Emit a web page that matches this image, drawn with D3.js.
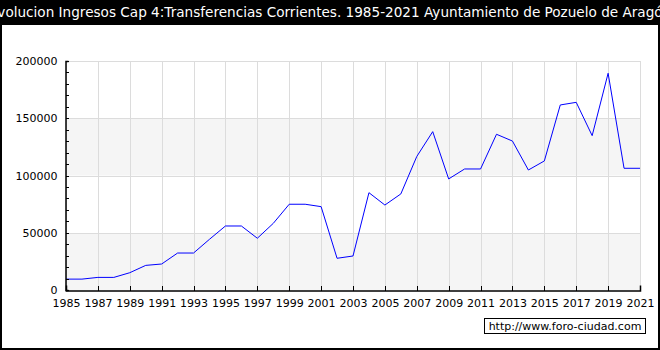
<!DOCTYPE html>
<html>
<head>
<meta charset="utf-8">
<script src="https://cdn.jsdelivr.net/npm/d3@7"></script>
<style>
  body { margin: 0; background: #fff; }
  svg { display: block; font-family: "DejaVu Sans", sans-serif; }
</style>
</head>
<body>
<div id="chart"></div>
<script>
// data
var years = d3.range(1985, 2022);
var ingresos = [9500, 9500, 11000, 11000, 15100, 21500, 22700, 32300, 32300, 44300,
                55900, 55900, 45200, 58200, 74900, 74900, 72800, 27700, 29700, 85000,
                74200, 83900, 116600, 138300, 97000, 105700, 105700, 136000, 130100, 104800,
                112700, 161600, 163900, 134800, 189300, 106300, 106300];
var yTicks = [0, 50000, 100000, 150000, 200000];
var xTickYears = years.filter(function(y) { return y % 2 == 1; });
var titulo = "Evolucion Ingresos Cap 4:Transferencias Corrientes. 1985-2021 Ayuntamiento de Pozuelo de Aragón";
var marca = "http://www.foro-ciudad.com";

var width = 660, height = 350;

var svg = d3.select("#chart")
    .append("svg")
        .attr("width", width)
        .attr("height", height);

// black frame + title bar
svg.append("rect")
    .attr("x", 0).attr("y", 0)
    .attr("width", width).attr("height", height)
    .attr("fill", "#000");
svg.append("rect")
    .attr("x", 2).attr("y", 25)
    .attr("width", width - 4).attr("height", height - 27)
    .attr("fill", "#fff");

svg.append("text")
    .attr("x", width / 2)
    .attr("y", 17)
    .attr("text-anchor", "middle")
    .style("font-size", "13.6px")
    .style("fill", "#fff")
    .text(titulo);

// scales
var x = d3.scaleLinear()
    .domain([1985, 2021])
    .range([66, 640]);

var y = d3.scaleLinear()
    .domain([0, 200000])
    .range([290, 61]);

// alternating bands
var bands = d3.pairs(yTicks);
svg.selectAll(".band")
    .data(bands)
    .enter()
    .append("rect")
        .attr("class", "band")
        .attr("x", x(1985))
        .attr("width", x(2021) - x(1985))
        .attr("y", function(d) { return y(d[1]); })
        .attr("height", function(d) { return y(d[0]) - y(d[1]); })
        .attr("fill", function(d, i) { return i % 2 == 0 ? "#f5f5f5" : "#fff"; });

// grid
svg.selectAll(".hgrid")
    .data(yTicks.slice(1))
    .enter()
    .append("line")
        .attr("x1", x(1985)).attr("x2", x(2021))
        .attr("y1", function(d) { return y(d) + 0.5; })
        .attr("y2", function(d) { return y(d) + 0.5; })
        .attr("stroke", "#dcdcdc")
        .attr("shape-rendering", "crispEdges");

svg.selectAll(".vgrid")
    .data(xTickYears)
    .enter()
    .append("line")
        .attr("x1", function(d) { return Math.round(x(d)) + 0.5; })
        .attr("x2", function(d) { return Math.round(x(d)) + 0.5; })
        .attr("y1", y(200000)).attr("y2", y(0))
        .attr("stroke", "#dcdcdc")
        .attr("shape-rendering", "crispEdges");

// line
var line = d3.line()
    .x(function(d, i) { return x(years[i]); })
    .y(function(d) { return y(d); });

svg.append("path")
    .datum(ingresos)
    .attr("d", line)
    .attr("fill", "none")
    .attr("stroke", "#0000ff")
    .attr("stroke-width", 1);

// axes
var yAxis = d3.axisLeft(y)
    .tickValues(d3.range(0, 200001, 10000))
    .tickSize(-3)
    .tickPadding(8)
    .tickFormat(function(d) { return d % 50000 == 0 ? d : ""; });

var gy = svg.append("g")
    .attr("transform", "translate(" + (x(1985) - 0.5) + ",0)")
    .call(yAxis);

var xAxis = d3.axisBottom(x)
    .tickValues(xTickYears)
    .tickSize(-5)
    .tickPadding(9)
    .tickFormat(d3.format("d"));

var gx = svg.append("g")
    .attr("transform", "translate(0," + (y(0) + 0.5) + ")")
    .call(xAxis);

[gx, gy].forEach(function(g) {
    g.select(".domain").attr("stroke", "#000").attr("stroke-width", 1.5);
    g.selectAll(".tick line").attr("stroke", "#000").attr("shape-rendering", "crispEdges");
    g.selectAll("text")
        .style("font-family", "DejaVu Sans, sans-serif")
        .style("font-size", "11px")
        .style("fill", "#000");
});

// watermark
svg.append("rect")
    .attr("x", 484.5).attr("y", 318.5)
    .attr("width", 161).attr("height", 15)
    .attr("fill", "#fff")
    .attr("stroke", "#000");

svg.append("text")
    .attr("x", 565)
    .attr("y", 330)
    .attr("text-anchor", "middle")
    .style("font-size", "11px")
    .text(marca);
</script>
</body>
</html>
